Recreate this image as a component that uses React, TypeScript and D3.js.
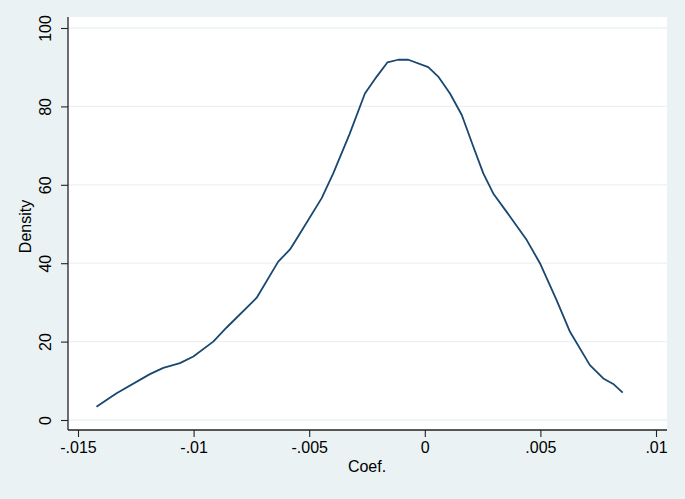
import * as d3 from "d3";
import { useEffect, useRef } from "react";

const width = 685;
const height = 499;

// kernel density estimate
const coefValues = [
  -0.0142, -0.0138, -0.01333, -0.01189, -0.01131, -0.01059, -0.01001, -0.00915,
  -0.00857, -0.00727, -0.00634, -0.00583, -0.0054, -0.00446, -0.00396, -0.00325,
  -0.00259, -0.00208, -0.00162, -0.00115, -0.00071, 0.00015, 0.00058, 0.00109,
  0.0016, 0.0021, 0.00253, 0.00296, 0.00354, 0.00441, 0.00498, 0.0057, 0.00628,
  0.00714, 0.00772, 0.00815, 0.00856,
];
const densityValues = [
  3.4, 5.0, 6.8, 11.7, 13.3, 14.5, 16.2, 20.0, 23.6, 31.2, 40.4, 43.5, 47.6,
  56.6, 62.9, 73.0, 83.3, 87.6, 91.2, 91.9, 91.9, 90.0, 87.6, 83.3, 77.8, 69.7,
  62.9, 57.8, 53.1, 45.9, 40.0, 30.6, 22.5, 14.0, 10.6, 9.2, 7.0,
];

const xTicks = [-0.015, -0.01, -0.005, 0, 0.005, 0.01];
const xTickLabels = ["-.015", "-.01", "-.005", "0", ".005", ".01"];
const yTicks = [0, 20, 40, 60, 80, 100];

const plotLeft = 68;
const plotRight = 667;
const plotTop = 17;
const plotBottom = 430;

const fontFamily = "Arial, 'Liberation Sans', sans-serif";
const fontSize = "16px";

function App() {
  const svgRef = useRef<SVGSVGElement | null>(null);

  useEffect(() => {
    document.body.style.margin = "0";
    const svg = d3.select(svgRef.current);
    svg.selectAll("*").remove();

    const x = d3.scaleLinear().domain([-0.015, 0.01]).range([78, 656]);
    const y = d3.scaleLinear().domain([0, 100]).range([420, 28]);

    svg
      .append("rect")
      .attr("width", width)
      .attr("height", height)
      .attr("fill", "#eaf2f3");

    svg
      .append("rect")
      .attr("x", plotLeft)
      .attr("y", plotTop)
      .attr("width", plotRight - plotLeft)
      .attr("height", plotBottom - plotTop)
      .attr("fill", "#ffffff");

    // gridlines
    svg
      .append("g")
      .selectAll("line")
      .data(yTicks)
      .join("line")
      .attr("x1", plotLeft)
      .attr("x2", plotRight)
      .attr("y1", (d) => y(d))
      .attr("y2", (d) => y(d))
      .attr("stroke", "#eaf2f3")
      .attr("stroke-width", 1.3);

    // y axis
    const yAxis = svg
      .append("g")
      .attr("transform", `translate(${plotLeft},0)`)
      .call(d3.axisLeft(y).tickValues(yTicks).tickSize(7).tickPadding(0).tickFormat(d3.format("d")));
    yAxis.select(".domain").attr("d", `M0,${plotTop}V${plotBottom}`).attr("stroke", "#222").attr("stroke-width", 1.3);
    yAxis.selectAll(".tick line").attr("stroke", "#222").attr("stroke-width", 1.1);
    yAxis
      .selectAll(".tick text")
      .attr("transform", "rotate(-90)")
      .attr("x", 0)
      .attr("y", -17)
      .attr("dy", 0)
      .attr("text-anchor", "middle")
      .attr("fill", "#000")
      .style("font-family", fontFamily)
      .style("font-size", fontSize);

    // x axis
    const xAxis = svg
      .append("g")
      .attr("transform", `translate(0,${plotBottom})`)
      .call(
        d3
          .axisBottom(x)
          .tickValues(xTicks)
          .tickSize(7)
          .tickFormat((_, i) => xTickLabels[i]),
      );
    xAxis.select(".domain").attr("d", `M${plotLeft},0H${plotRight}`).attr("stroke", "#222").attr("stroke-width", 1.3);
    xAxis.selectAll(".tick line").attr("stroke", "#222").attr("stroke-width", 1.1);
    xAxis
      .selectAll(".tick text")
      .attr("y", 23)
      .attr("dy", 0)
      .attr("fill", "#000")
      .style("font-family", fontFamily)
      .style("font-size", fontSize);

    // axis titles
    svg
      .append("text")
      .attr("transform", `translate(31,${(plotTop + plotBottom) / 2 + 3}) rotate(-90)`)
      .attr("text-anchor", "middle")
      .text("Density")
      .style("font-family", fontFamily)
      .style("font-size", fontSize)
      .attr("fill", "#000");

    svg
      .append("text")
      .attr("x", 367)
      .attr("y", 472)
      .attr("text-anchor", "middle")
      .text("Coef.")
      .style("font-family", fontFamily)
      .style("font-size", fontSize)
      .attr("fill", "#000");

    const points = coefValues.map((c, i) => [c, densityValues[i]] as [number, number]);
    const line = d3
      .line<[number, number]>()
      .x((d) => x(d[0]))
      .y((d) => y(d[1]));

    svg
      .append("path")
      .datum(points)
      .attr("d", line)
      .attr("fill", "none")
      .attr("stroke", "#1a476f")
      .attr("stroke-width", 1.8)
      .attr("stroke-linejoin", "round");
  }, []);

  return (
    <div style={{ position: "absolute", left: 0, top: 0 }}>
      <svg ref={svgRef} width={width} height={height} style={{ display: "block" }}></svg>
    </div>
  );
}

export default App;
